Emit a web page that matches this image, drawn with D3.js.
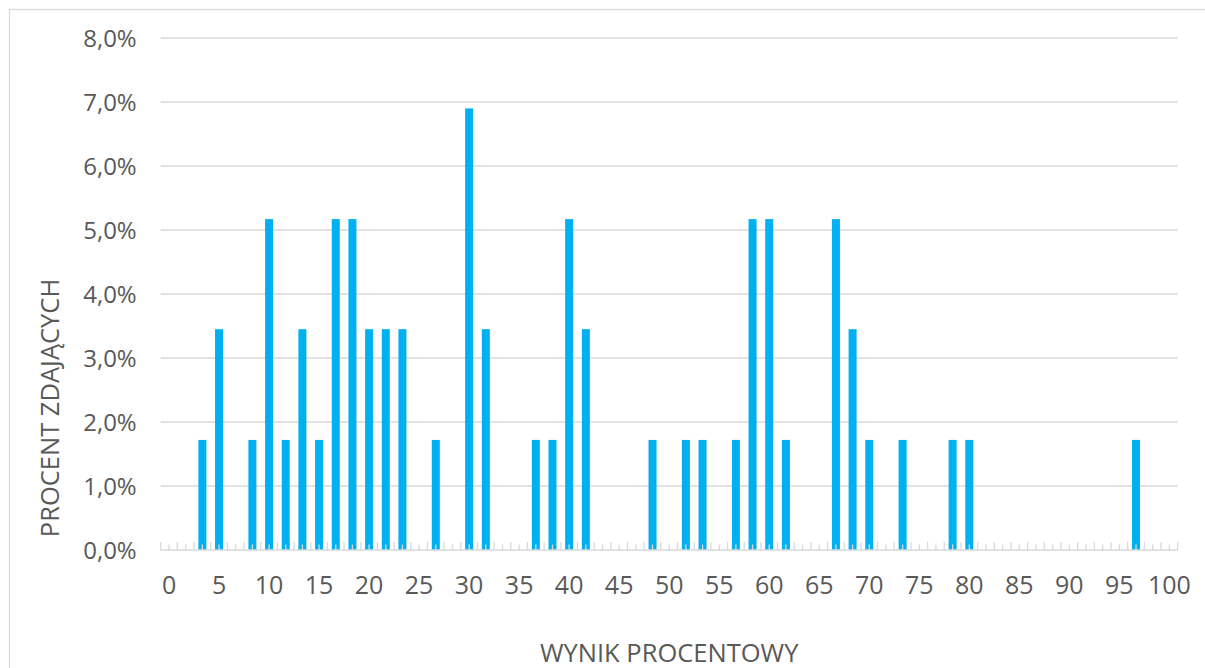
<html>
  <body style="margin:0">
    <style>
      body { background: #fff; }
      text { font-family: "Open Sans", sans-serif; fill: #595959; }
    </style>

    <script src="https://d3js.org/d3.v7.min.js"></script>

    <svg id="chart" width="1205" height="668"></svg>

    <script>
      // percent score of each category (points 0..60 out of 60)
      const categories = [0, 1.67, 3.33, 5, 6.67, 8.33, 10, 11.67, 13.33, 15, 16.67, 18.33, 20, 21.67, 23.33,
        25, 26.67, 28.33, 30, 31.67, 33.33, 35, 36.67, 38.33, 40, 41.67, 43.33, 45, 46.67, 48.33, 50,
        51.67, 53.33, 55, 56.67, 58.33, 60, 61.67, 63.33, 65, 66.67, 68.33, 70, 71.67, 73.33, 75, 76.67,
        78.33, 80, 81.67, 83.33, 85, 86.67, 88.33, 90, 91.67, 93.33, 95, 96.67, 98.33, 100];
      // share of students (%)
      const shares = [0, 0, 1.72, 3.45, 0, 1.72, 5.17, 1.72, 3.45, 1.72, 5.17, 5.17, 3.45, 3.45, 3.45,
        0, 1.72, 0, 6.90, 3.45, 0, 0, 1.72, 1.72, 5.17, 3.45, 0, 0, 0, 1.72, 0,
        1.72, 1.72, 0, 1.72, 5.17, 5.17, 1.72, 0, 0, 5.17, 3.45, 1.72, 0, 1.72, 0, 0,
        1.72, 1.72, 0, 0, 0, 0, 0, 0, 0, 0, 0, 1.72, 0, 0];
      const xTickLabels = [0, 5, 10, 15, 20, 25, 30, 35, 40, 45, 50, 55, 60, 65, 70, 75, 80, 85, 90, 95, 100];
      const yTicks = [0, 1, 2, 3, 4, 5, 6, 7, 8];

      const margin = { top: 38, left: 160.7, right: 27.3, bottom: 118 };
      const width = 1205, height = 668;
      const plotW = width - margin.left - margin.right;
      const plotH = height - margin.top - margin.bottom;

      const svg = d3.select('#chart');

      // chart border
      svg.append('rect')
        .attr('x', 9.5).attr('y', 9.5)
        .attr('width', 1220).attr('height', 700)
        .attr('fill', 'none')
        .attr('stroke', '#d9d9d9')
        .attr('stroke-width', 1.2);

      const x = d3.scaleBand()
        .domain(categories)
        .range([0, plotW])
        .paddingInner(0.52)
        .paddingOuter(0.26);
      const step = x.step();

      const y = d3.scaleLinear().domain([0, 8]).range([plotH, 0]);

      const g = svg.append('g').attr('transform', `translate(${margin.left},${margin.top})`);

      // grid
      g.append('g').attr('class', 'grid')
        .selectAll('line')
        .data(yTicks.filter(d => d > 0))
        .join('line')
        .attr('x1', 0).attr('x2', plotW)
        .attr('y1', d => y(d)).attr('y2', d => y(d))
        .attr('stroke', '#d9d9d9')
        .attr('stroke-width', 1.3);

      // y labels
      g.append('g')
        .selectAll('text')
        .data(yTicks)
        .join('text')
        .attr('x', -24)
        .attr('y', d => y(d))
        .attr('dy', '0.36em')
        .attr('text-anchor', 'end')
        .style('font-size', '24px')
        .text(d => d3.format('.1f')(d).replace('.', ',') + '%');

      // bars
      const data = categories.map((c, i) => ({ c, v: shares[i] })).filter(d => d.v > 0);
      g.append('g')
        .selectAll('rect')
        .data(data)
        .join('rect')
        .attr('x', d => x(d.c))
        .attr('width', x.bandwidth())
        .attr('y', d => y(d.v))
        .attr('height', d => y(0) - y(d.v))
        .attr('fill', '#00b0f0');

      // x axis line and tick marks
      const axis = g.append('g').attr('class', 'x-axis').attr('transform', `translate(0,${plotH})`);
      const boundaries = categories.map((c, i) => i * step).concat([categories.length * step]);
      axis.selectAll('line.major')
        .data(boundaries)
        .join('line')
        .attr('class', 'major')
        .attr('x1', d => d).attr('x2', d => d)
        .attr('y1', -8).attr('y2', 0)
        .attr('stroke', '#d9d9d9').attr('stroke-width', 1.3);
      axis.selectAll('line.minor')
        .data(categories)
        .join('line')
        .attr('class', 'minor')
        .attr('x1', d => x(d) + x.bandwidth() / 2).attr('x2', d => x(d) + x.bandwidth() / 2)
        .attr('y1', -5.5).attr('y2', 0)
        .attr('stroke', '#d9d9d9').attr('stroke-width', 1.3);
      axis.append('line')
        .attr('x1', 0).attr('x2', plotW)
        .attr('y1', 0).attr('y2', 0)
        .attr('stroke', '#d9d9d9').attr('stroke-width', 1.6);

      axis.selectAll('text')
        .data(xTickLabels)
        .join('text')
        .attr('x', d => x(categories.find(c => Math.abs(c - d) < 0.01)) + x.bandwidth() / 2)
        .attr('y', 44)
        .attr('text-anchor', 'middle')
        .style('font-size', '25px')
        .text(d => d);

      // axis titles
      svg.append('text')
        .attr('x', margin.left + plotW / 2)
        .attr('y', 662)
        .attr('text-anchor', 'middle')
        .style('font-size', '25.5px')
        .text('WYNIK PROCENTOWY');

      svg.append('text')
        .attr('transform', 'translate(59,408) rotate(-90)')
        .attr('text-anchor', 'middle')
        .style('font-size', '25.5px')
        .text('PROCENT ZDAJĄCYCH');
    </script>
  </body>
</html>
